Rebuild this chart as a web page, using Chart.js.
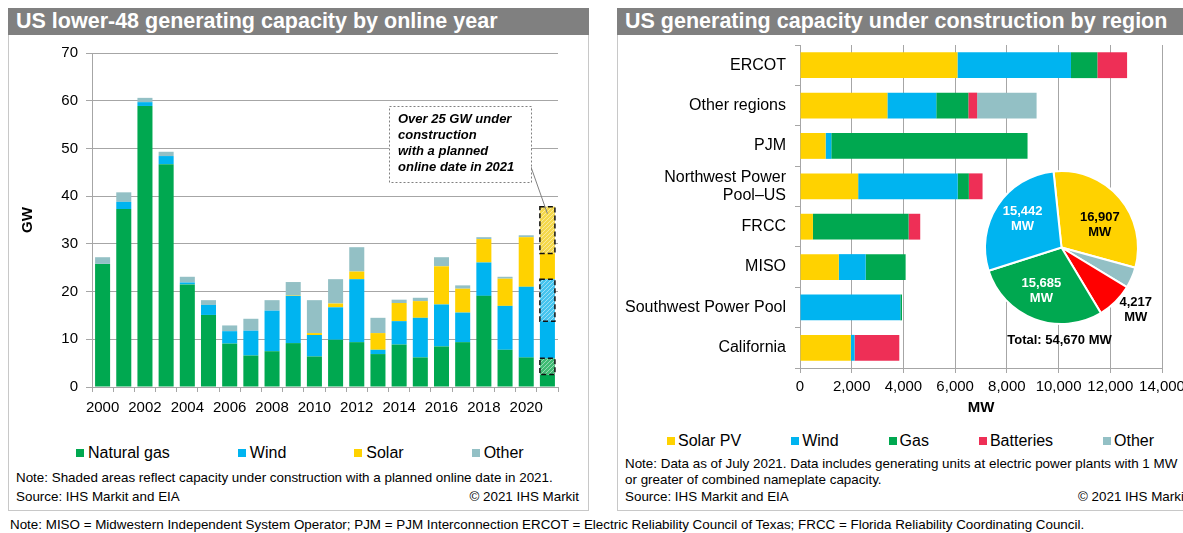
<!DOCTYPE html>
<html>
<head>
<meta charset="utf-8">
<script src="https://cdn.jsdelivr.net/npm/chart.js@4.4.1/dist/chart.umd.min.js"></script>
<style>
  html, body { margin: 0; padding: 0; background: #fff; }
  body { width: 1183px; height: 533px; overflow: hidden; position: relative;
         font-family: "Liberation Sans", Arial, sans-serif; color: #000; }
  .panel { position: absolute; top: 8px; height: 503px; border: 1px solid #c8c8c8; box-sizing: border-box; }
  #panelL { left: 8px; width: 581px; }
  #panelR { left: 617px; width: 620px; }
  .title { position: absolute; left: -1px; right: -1px; top: -1px; height: 27px; background: #808080;
           color: #fff; font-weight: bold; font-size: 21.5px; line-height: 27px; padding-left: 8px; white-space: nowrap; }
  canvas { position: absolute; }
  .txt { position: absolute; font-size: 13.4px; line-height: 15px; white-space: nowrap; }
  .legend { position: absolute; display: flex; font-size: 16px; line-height: 18px; white-space: nowrap; }
  .legend span.item { display: inline-flex; align-items: center; }
  .legend i { display: inline-block; width: 8px; height: 8px; }
</style>
</head>
<body>
<div class="panel" id="panelL"><div class="title">US lower-48 generating capacity by online year</div></div>
<div class="panel" id="panelR"><div class="title">US generating capacity under construction by region</div></div>

<canvas id="leftChart" width="578" height="390" style="left:9px; top:34px;"></canvas>
<canvas id="rightChart" width="580" height="390" style="left:618px; top:34px;"></canvas>
<canvas id="pieChart" width="200" height="200" style="left:970px; top:160px;"></canvas>

<div class="legend" id="legendL" style="left:76px; top:444px;"></div>
<div class="legend" id="legendR" style="left:667px; top:432px;"></div>

<div class="txt" style="left:16px; top:470px;">Note: Shaded areas reflect capacity under construction with a planned online date in 2021.</div>
<div class="txt" style="left:16px; top:489px;">Source: IHS Markit and EIA</div>
<div class="txt" style="right:604px; top:489px;">© 2021 IHS Markit</div>

<div class="txt" style="left:625px; top:456px;">Note: Data as of July 2021. Data includes generating units at electric power plants with 1 MW</div>
<div class="txt" style="left:625px; top:472px;">or greater of combined nameplate capacity.</div>
<div class="txt" style="left:625px; top:489px;">Source: IHS Markit and EIA</div>
<div class="txt" style="left:1078px; top:489px;">© 2021 IHS Markit</div>

<div class="txt" style="left:10px; top:517px;">Note: MISO = Midwestern Independent System Operator; PJM = PJM Interconnection ERCOT = Electric Reliability Council of Texas; FRCC = Florida Reliability Coordinating Council.</div>

<script>
// left chart: GW by online year (2021 split into online + under construction)
const years = ['2000', '2001', '2002', '2003', '2004', '2005', '2006', '2007', '2008', '2009', '2010',
               '2011', '2012', '2013', '2014', '2015', '2016', '2017', '2018', '2019', '2020', '2021'];
const gasGW   = [25.8, 37.3, 58.9, 46.7, 21.5, 15.1, 9.1, 6.6, 7.5, 9.2, 6.4, 9.9, 9.4, 6.9, 8.9, 6.2, 8.5, 9.4, 19.1, 7.8, 6.2, 2.6];
const windGW  = [0, 1.5, 0.8, 1.7, 0.4, 2.1, 2.6, 5.2, 8.5, 9.9, 4.5, 6.8, 13.2, 0.9, 4.9, 8.3, 8.8, 6.2, 7.0, 9.2, 14.8, 7.8];
const solarGW = [0, 0, 0, 0, 0, 0, 0, 0, 0, 0.1, 0.4, 0.8, 1.6, 3.5, 3.8, 3.5, 8.0, 5.0, 4.9, 5.7, 10.4, 5.4];
const otherGW = [1.4, 2.0, 0.9, 0.9, 1.2, 1.0, 1.2, 2.5, 2.2, 2.8, 6.9, 5.1, 5.1, 3.2, 0.7, 0.7, 1.9, 0.7, 0.4, 0.4, 0.4, 0];
// under construction, planned online 2021
const gasUC   = [null, null, null, null, null, null, null, null, null, null, null, null, null, null, null, null, null, null, null, null, null, 3.4];
const windUC  = [null, null, null, null, null, null, null, null, null, null, null, null, null, null, null, null, null, null, null, null, null, 8.8];
const solarUC = [null, null, null, null, null, null, null, null, null, null, null, null, null, null, null, null, null, null, null, null, null, 9.8];
const gwTicks = [0, 10, 20, 30, 40, 50, 60, 70];

// right chart: MW under construction by region
const regions = ['ERCOT', 'Other regions', 'PJM', ['Northwest Power', 'Pool\u2013US'], 'FRCC', 'MISO', 'Southwest Power Pool', 'California'];
const solarMW = [6090, 3380, 990, 2250, 500, 1500, 0, 1965];
const windMW  = [4390, 1890, 220, 3850, 0, 1040, 3880, 145];
const gasMW   = [1020, 1240, 7590, 430, 3700, 1545, 65, 0];
const battMW  = [1150, 340, 0, 530, 450, 0, 0, 1730];
const otherMW = [0, 2300, 0, 0, 0, 0, 0, 0];

// pie: totals by technology
const pieLabels = ['Solar PV', 'Other', 'Batteries', 'Gas', 'Wind'];
const pieValues = [16907, 2419, 4217, 15685, 15442];
const pieTotal = 54670;

const C = { gas: '#00a850', wind: '#00b4f0', solar: '#ffd200', other: '#93c0c5', batt: '#ee2f56', red: '#ff0000' };
const GRID = '#a6a6a6';
const FONT = '"Liberation Sans", Arial, sans-serif';

Chart.defaults.font.family = FONT;
Chart.defaults.color = '#000';
Chart.defaults.animation = false;

function hatch(ctx, base) {
    const c = document.createElement('canvas');
    c.width = 4; c.height = 4;
    const g = c.getContext('2d');
    g.fillStyle = base;
    g.fillRect(0, 0, 4, 4);
    g.strokeStyle = 'rgba(255,255,255,0.45)';
    g.lineWidth = 1;
    g.beginPath(); g.moveTo(-1, 5); g.lineTo(5, -1); g.stroke();
    return ctx.createPattern(c, 'repeat');
}

const leftCtx = document.getElementById('leftChart').getContext('2d');

const leftSets = [
    { label: 'Natural gas', data: gasGW, backgroundColor: C.gas },
    { label: 'Natural gas (under construction)', data: gasUC, backgroundColor: hatch(leftCtx, '#3fbb74'), uc: true },
    { label: 'Wind', data: windGW, backgroundColor: C.wind },
    { label: 'Wind (under construction)', data: windUC, backgroundColor: hatch(leftCtx, '#45c4ee'), uc: true },
    { label: 'Solar', data: solarGW, backgroundColor: C.solar },
    { label: 'Solar (under construction)', data: solarUC, backgroundColor: hatch(leftCtx, '#f4d84c'), uc: true },
    { label: 'Other', data: otherGW, backgroundColor: C.other }
];

// dashed outlines on the under-construction segments + callout box
const ucPlugin = {
    id: 'ucOutline',
    afterDatasetsDraw(chart) {
        const ctx = chart.ctx;
        const area = chart.chartArea;
        let tip = null;
        ctx.save();
        chart.data.datasets.forEach((ds, i) => {
            if (!ds.uc) return;
            chart.getDatasetMeta(i).data.forEach((bar, j) => {
                if (ds.data[j] == null) return;
                const p = bar.getProps(['x', 'y', 'base', 'width'], true);
                ctx.setLineDash([5, 3]);
                ctx.lineWidth = 1.5;
                ctx.strokeStyle = '#111';
                ctx.strokeRect(p.x - p.width / 2, Math.min(p.y, p.base), p.width, Math.abs(p.base - p.y));
                tip = { x: p.x, y: Math.min(p.y, p.base) + 7 };
            });
        });

        const bx = area.left + 297, by = area.top + 53, bw = 142, bh = 76;
        ctx.setLineDash([]);
        ctx.strokeStyle = '#808080';
        ctx.lineWidth = 1;
        if (tip) {
            ctx.beginPath();
            ctx.moveTo(bx + bw, by + 61);
            ctx.lineTo(tip.x, tip.y);
            ctx.stroke();
        }
        ctx.fillStyle = '#fff';
        ctx.fillRect(bx, by, bw, bh);
        ctx.setLineDash([2, 2]);
        ctx.strokeRect(bx + 0.5, by + 0.5, bw, bh);
        ctx.setLineDash([]);
        ctx.fillStyle = '#000';
        ctx.font = 'italic bold 13px ' + FONT;
        ctx.textBaseline = 'middle';
        ['Over 25 GW under', 'construction', 'with a planned', 'online date in 2021'].forEach((t, k) => {
            ctx.fillText(t, bx + 9, by + 13 + k * 16);
        });
        ctx.restore();
    }
};

new Chart(leftCtx, {
    type: 'bar',
    data: { labels: years, datasets: leftSets },
    options: {
        responsive: false,
        layout: { padding: { top: 19, right: 29, left: 0, bottom: 0 } },
        datasets: { bar: { barPercentage: 0.71, categoryPercentage: 1 } },
        plugins: { legend: { display: false }, tooltip: { enabled: false } },
        scales: {
            x: {
                stacked: true,
                grid: { drawOnChartArea: false, tickLength: 5, color: GRID },
                border: { color: GRID },
                ticks: { autoSkip: false, maxRotation: 0, padding: 7, font: { size: 15 },
                         callback: (v, i) => (i % 2 === 0 ? years[i] : '') },
                afterFit(s) { s.height = 37; }
            },
            y: {
                stacked: true, min: 0, max: 70,
                afterBuildTicks(s) { s.ticks = gwTicks.map(v => ({ value: v })); },
                grid: { color: GRID, tickLength: 6 },
                border: { color: GRID },
                ticks: { padding: 8, font: { size: 15 } },
                title: { display: true, text: 'GW', font: { size: 15, weight: 'bold' }, padding: { top: 10, bottom: 0 } },
                afterFit(s) { s.width = 83; }
            }
        }
    },
    plugins: [ucPlugin]
});

new Chart(document.getElementById('rightChart'), {
    type: 'bar',
    data: {
        labels: regions,
        datasets: [
            { label: 'Solar PV', data: solarMW, backgroundColor: C.solar },
            { label: 'Wind', data: windMW, backgroundColor: C.wind },
            { label: 'Gas', data: gasMW, backgroundColor: C.gas },
            { label: 'Batteries', data: battMW, backgroundColor: C.batt },
            { label: 'Other', data: otherMW, backgroundColor: C.other }
        ]
    },
    options: {
        indexAxis: 'y',
        responsive: false,
        layout: { padding: { top: 11, right: 36, left: 0, bottom: 0 } },
        datasets: { bar: { barPercentage: 0.64, categoryPercentage: 1 } },
        plugins: { legend: { display: false }, tooltip: { enabled: false } },
        scales: {
            x: {
                stacked: true, min: 0, max: 14000,
                ticks: { stepSize: 2000, autoSkip: false, maxRotation: 0, padding: 5, font: { size: 15 },
                         callback: v => v.toLocaleString('en-US') },
                grid: { color: GRID, tickLength: 5 },
                border: { color: GRID },
                title: { display: true, text: 'MW', font: { size: 15, weight: 'bold' }, padding: { top: 0, bottom: 7 } },
                afterFit(s) { s.height = 56; }
            },
            y: {
                stacked: true,
                ticks: { autoSkip: false, padding: 9, font: { size: 16, lineHeight: 1.15 } },
                grid: { drawOnChartArea: false, tickLength: 5, color: GRID },
                border: { color: GRID },
                // labels sit inside their category bands, so no overflow padding needed
                afterFit(s) { s.width = 182; s.paddingTop = 0; s.paddingBottom = 0; }
            }
        }
    }
});

// pie labels: radius factor (0 = none), angle nudge in degrees, text colour
const pieLabelR = [0.58, 0, 1.27, 0.63, 0.63];
const pieLabelNudge = [10, 0, -5, 4, 3];
const pieTextColor = ['#000', '#000', '#000', '#fff', '#fff'];

const pieLabelPlugin = {
    id: 'pieLabels',
    afterDatasetsDraw(chart) {
        const ctx = chart.ctx;
        const arcs = chart.getDatasetMeta(0).data;
        ctx.save();
        ctx.font = 'bold 13px ' + FONT;
        ctx.textAlign = 'center';
        ctx.textBaseline = 'middle';
        arcs.forEach((arc, i) => {
            if (!pieLabelR[i]) return;
            const p = arc.getProps(['x', 'y', 'startAngle', 'endAngle', 'outerRadius'], true);
            const a = (p.startAngle + p.endAngle) / 2 + pieLabelNudge[i] * Math.PI / 180;
            const r = p.outerRadius * pieLabelR[i];
            const cx = p.x + Math.cos(a) * r, cy = p.y + Math.sin(a) * r;
            ctx.fillStyle = pieTextColor[i];
            ctx.fillText(pieValues[i].toLocaleString('en-US'), cx, cy - 7.5);
            ctx.fillText('MW', cx, cy + 7.5);
        });
        const c = arcs[0].getProps(['x', 'y', 'outerRadius'], true);
        ctx.fillStyle = '#000';
        ctx.fillText('Total: ' + pieTotal.toLocaleString('en-US') + ' MW', c.x - 2, c.y + c.outerRadius + 16);
        ctx.restore();
    }
};

new Chart(document.getElementById('pieChart'), {
    type: 'pie',
    data: {
        labels: pieLabels,
        datasets: [{ data: pieValues, backgroundColor: [C.solar, C.other, C.red, C.gas, C.wind], borderColor: '#fff', borderWidth: 2 }]
    },
    options: {
        responsive: false,
        rotation: -6,
        layout: { padding: { left: 14, right: 31, top: 10, bottom: 35 } },
        plugins: { legend: { display: false }, tooltip: { enabled: false } }
    },
    plugins: [pieLabelPlugin]
});

// html legends from the series names
function buildLegend(id, items, gap) {
    const el = document.getElementById(id);
    items.forEach((it, k) => {
        const s = document.createElement('span');
        s.className = 'item';
        if (k > 0) s.style.marginLeft = gap + 'px';
        s.innerHTML = '<i style="background:' + it.color + '; margin-right:' + it.m + 'px"></i>' + it.text;
        el.appendChild(s);
    });
}
buildLegend('legendL', leftSets.filter(d => !d.uc).map(d => ({ text: d.label, color: d.backgroundColor, m: 4 })), 68);
buildLegend('legendR', ['Solar PV', 'Wind', 'Gas', 'Batteries', 'Other'].map((t, k) =>
    ({ text: t, color: [C.solar, C.wind, C.gas, C.batt, C.other][k], m: 3 })), 50);
</script>
</body>
</html>
